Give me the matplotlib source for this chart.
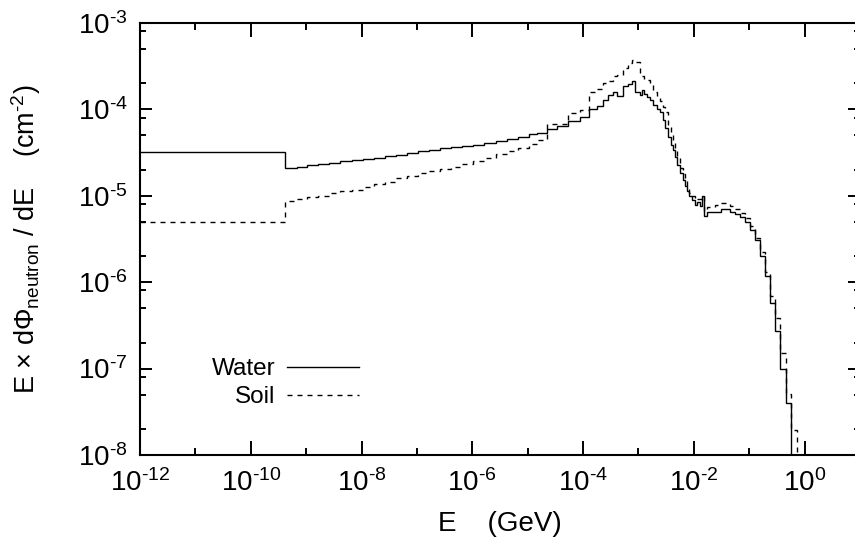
import numpy as np
import matplotlib
matplotlib.use("Agg")
import matplotlib.pyplot as plt
from matplotlib.ticker import FixedLocator, FuncFormatter, LogLocator, NullFormatter

plt.rcParams["font.family"] = ["Liberation Sans", "DejaVu Sans"]
plt.rcParams["mathtext.fontset"] = "custom"
plt.rcParams["mathtext.rm"] = "Liberation Sans"
plt.rcParams["mathtext.it"] = "Liberation Sans:italic"

# bin edges, log10(E / GeV)
edges_log10 = [
    -12.0, -9.38, -9.17, -8.98, -8.78, -8.58, -8.38, -8.18, -7.98, -7.78, -7.58,
    -7.38, -7.18, -6.98, -6.78, -6.58, -6.38, -6.18, -5.98, -5.78, -5.58, -5.38,
    -5.18, -4.98, -4.83, -4.66, -4.47, -4.27, -4.06, -3.90, -3.75, -3.64, -3.55,
    -3.46, -3.39, -3.28, -3.19, -3.12, -3.07, -2.97, -2.94, -2.90, -2.85, -2.79,
    -2.74, -2.67, -2.61, -2.56, -2.52, -2.47, -2.41, -2.38, -2.34, -2.31, -2.25,
    -2.20, -2.16, -2.13, -2.09, -2.04, -1.98, -1.95, -1.89, -1.86, -1.82, -1.77,
    -1.62, -1.51, -1.35, -1.26, -1.17, -1.08, -0.99, -0.90, -0.81, -0.72, -0.63,
    -0.54, -0.45, -0.34, -0.25, -0.14, 0.0,
]

# log10 of E x dPhi/dE (cm^-2) per bin; -12 = empty bin (below the axis)
water_log10 = [
    -4.49, -4.683, -4.665, -4.650, -4.635, -4.620, -4.605, -4.590, -4.575, -4.560,
    -4.545, -4.525, -4.505, -4.485, -4.470, -4.455, -4.440, -4.425, -4.410, -4.390,
    -4.370, -4.350, -4.320, -4.290, -4.270, -4.229, -4.200, -4.137, -4.087, -4.00,
    -3.96, -3.89, -3.84, -3.80, -3.85, -3.73, -3.71, -3.68, -3.80, -3.84, -3.78,
    -3.82, -3.855, -3.89, -3.95, -4.00, -4.03, -4.125, -4.22, -4.32, -4.41, -4.47,
    -4.55, -4.645, -4.74, -4.82, -4.89, -4.95, -5.01, -5.05, -5.11, -5.07, -5.12,
    -5.00, -5.24, -5.19, -5.185, -5.154, -5.185, -5.215, -5.25, -5.31, -5.40,
    -5.51, -5.70, -5.93, -6.24, -6.57, -7.01, -7.40, -12.0, -12.0,
]

soil_log10 = [
    -5.31, -5.06, -5.04, -5.02, -5.00, -4.97, -4.95, -4.93, -4.90, -4.87,
    -4.84, -4.80, -4.77, -4.74, -4.71, -4.69, -4.665, -4.63, -4.60, -4.56,
    -4.52, -4.48, -4.445, -4.40, -4.36, -4.17, -4.17, -4.05, -4.01, -3.80,
    -3.77, -3.70, -3.68, -3.62, -3.60, -3.52, -3.47, -3.43, -3.45, -3.60, -3.62,
    -3.66, -3.66, -3.72, -3.80, -3.86, -3.90, -3.97, -4.03, -4.18, -4.30, -4.38,
    -4.45, -4.55, -4.68, -4.75, -4.82, -4.90, -4.97, -5.01, -5.05, -5.04, -5.04,
    -5.00, -5.18, -5.13, -5.11, -5.09, -5.12, -5.16, -5.20, -5.26, -5.35,
    -5.49, -5.65, -5.88, -6.16, -6.41, -6.82, -7.30, -7.71, -12.0,
]

labels = ["Water", "Soil"]

edges = 10.0 ** np.array(edges_log10)
water = 10.0 ** np.array(water_log10)
soil = 10.0 ** np.array(soil_log10)

fig = plt.figure(figsize=(8.55, 5.37), dpi=100)
ax = fig.add_axes([140 / 855, 1 - 455 / 537, 720 / 855, (455 - 22.7) / 537])

ax.stairs(water, edges, baseline=None, color="black", lw=1.0, label=labels[0])
ax.stairs(soil, edges, baseline=None, color="black", lw=1.0,
          linestyle=(0, (3.6, 3.6)), label=labels[1])

ax.set_xscale("log")
ax.set_yscale("log")
ax.set_xlim(1e-12, 1e1)
ax.set_ylim(1e-8, 1e-3)

ax.xaxis.set_major_locator(FixedLocator([10.0 ** k for k in range(-12, 1, 2)]))
ax.xaxis.set_minor_locator(FixedLocator([10.0 ** k for k in range(-11, 1, 2)]))
ax.yaxis.set_major_locator(FixedLocator([10.0 ** k for k in range(-8, -2)]))
ax.yaxis.set_minor_locator(LogLocator(base=10, subs=[2, 5, 8], numticks=20))
fmt = FuncFormatter(lambda v, p: r"$\mathregular{10^{\text{%d}}}$" % round(np.log10(v)))
ax.xaxis.set_major_formatter(fmt)
ax.yaxis.set_major_formatter(fmt)
ax.xaxis.set_minor_formatter(NullFormatter())
ax.yaxis.set_minor_formatter(NullFormatter())

ax.tick_params(which="both", direction="in", top=True, right=True, width=1.4,
               labelsize=20, colors="black")
ax.tick_params(axis="x", which="major", length=10, pad=10)
ax.tick_params(axis="x", which="minor", length=5)
ax.tick_params(axis="y", which="major", length=8.5, pad=9)
ax.tick_params(axis="y", which="minor", length=4.3)
for s in ax.spines.values():
    s.set_linewidth(1.5)

ax.set_xlabel("E    (GeV)", fontsize=20, labelpad=10)
ax.set_ylabel(r"E × dΦ$_{\mathregular{neutron}}$ / dE    (cm$^{\mathregular{\text{-2}}}$)",
              fontsize=19.5, labelpad=25)

ax.legend(loc="upper left", bbox_to_anchor=(212 / 855, 1 - 358 / 537),
          bbox_transform=fig.transFigure, frameon=False, markerfirst=False,
          fontsize=17.5, handlelength=3.0, handletextpad=0.45, labelspacing=0.25,
          borderpad=0, borderaxespad=0)

fig.savefig("out.png", dpi=100)
